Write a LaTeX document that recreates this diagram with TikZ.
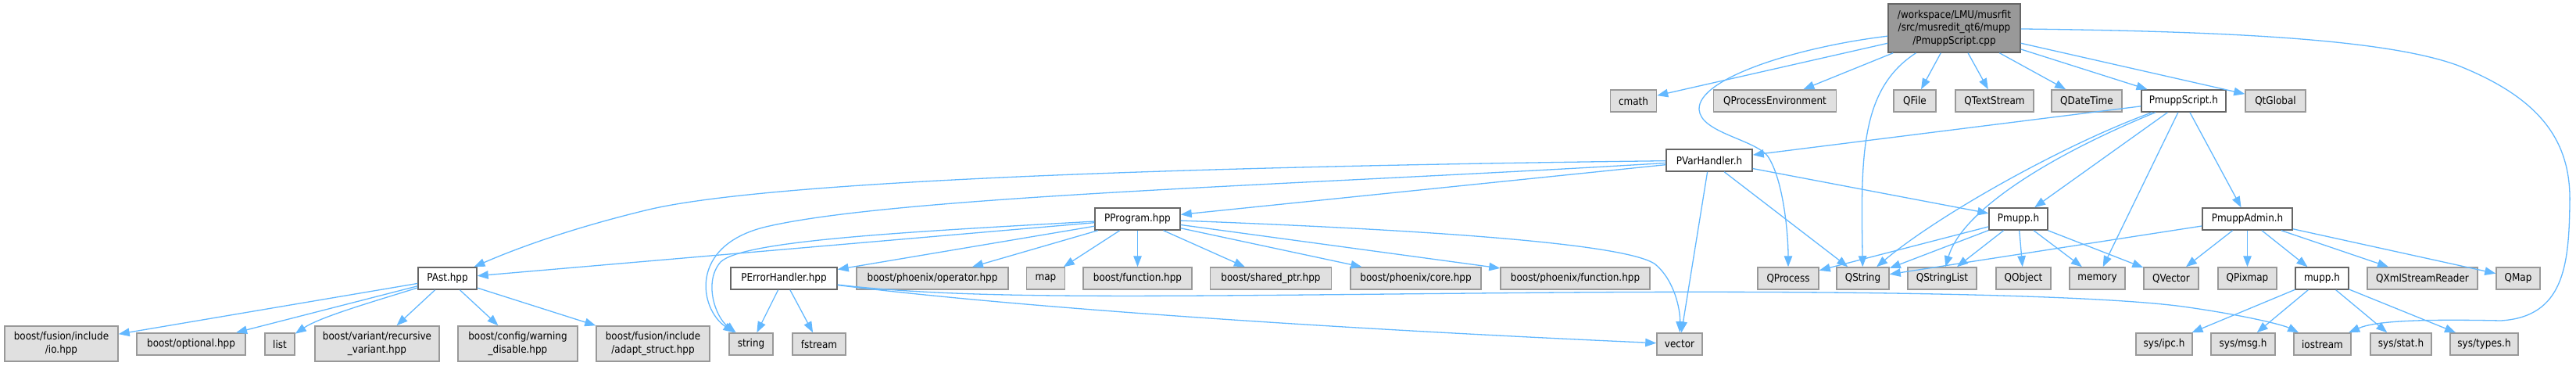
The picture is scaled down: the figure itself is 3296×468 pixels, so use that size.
\documentclass[tikz,border=0pt]{standalone}
\usepackage{fontspec}
\setmainfont{DejaVu Sans}[FakeStretch=0.89]
\usetikzlibrary{arrows.meta}
\definecolor{edgec}{HTML}{63B8FF}
\definecolor{gfill}{HTML}{E0E0E0}
\definecolor{gdraw}{HTML}{999999}
\definecolor{ddraw}{HTML}{666666}
\definecolor{rootfill}{HTML}{999999}
\tikzset{
  box/.style={line width=1.5pt, minimum height=28pt, inner sep=0pt, align=center,
    font=\fontsize{13.5}{16.6}\selectfont},
  ext/.style={box, fill=gfill, draw=gdraw},
  doc/.style={box, fill=white, draw=ddraw},
  root/.style={box, fill=rootfill, draw=ddraw, minimum height=62pt},
  two/.style={minimum height=45pt},
  e/.style={draw=edgec, line width=1.3pt, -{Triangle[length=14pt,width=10.5pt]}}
}
\begin{document}
\begin{tikzpicture}[x=1pt,y=-1pt]
\useasboundingbox (0,0) rectangle (3296,468);
% row 0
\node[root, minimum width=169pt] (main) at (2500.5,36) {/workspace/LMU/musrfit\\/src/musredit\_qt6/mupp\\/PmuppScript.cpp};
% row 1
\node[ext, minimum width=59pt] (cmath) at (2090,129) {cmath};
\node[ext, minimum width=157pt] (qpe) at (2271,129) {QProcessEnvironment};
\node[ext, minimum width=54pt] (qfile) at (2450,129) {QFile};
\node[ext, minimum width=100pt] (qts) at (2552,129) {QTextStream};
\node[ext, minimum width=90pt] (qdt) at (2670,129) {QDateTime};
\node[doc, minimum width=108pt] (pmsh) at (2794,129) {PmuppScript.h};
\node[ext, minimum width=77pt] (qtglobal) at (2911.5,129) {QtGlobal};
% row 2
\node[doc, minimum width=110pt] (pvar) at (2187,205) {PVarHandler.h};
% row 3
\node[doc, minimum width=109pt] (pprog) at (1455.5,280) {PProgram.hpp};
\node[doc, minimum width=75pt] (pmupp) at (2582.5,280) {Pmupp.h};
\node[doc, minimum width=115pt] (padmin) at (2875.5,280) {PmuppAdmin.h};
% row 4
\node[doc, minimum width=75pt] (past) at (572.5,356) {PAst.hpp};
\node[doc, minimum width=136pt] (perr) at (1003,356) {PErrorHandler.hpp};
\node[ext, minimum width=194pt] (bpop) at (1193,356) {boost/phoenix/operator.hpp};
\node[ext, minimum width=49pt] (map) at (1338,356) {map};
\node[ext, minimum width=139pt] (bfun) at (1455.5,356) {boost/function.hpp};
\node[ext, minimum width=155pt] (bsp) at (1626,356) {boost/shared\_ptr.hpp};
\node[ext, minimum width=167pt] (bpcore) at (1811.5,356) {boost/phoenix/core.hpp};
\node[ext, minimum width=191pt] (bpfun) at (2015.5,356) {boost/phoenix/function.hpp};
\node[ext, minimum width=78pt] (qprocess) at (2288,356) {QProcess};
\node[ext, minimum width=67pt] (qstring) at (2383.5,356) {QString};
\node[ext, minimum width=88pt] (qsl) at (2485,356) {QStringList};
\node[ext, minimum width=70pt] (qobject) at (2589,356) {QObject};
\node[ext, minimum width=71pt] (memory) at (2683.5,356) {memory};
\node[ext, minimum width=70pt] (qvector) at (2778,356) {QVector};
\node[ext, minimum width=75pt] (qpixmap) at (2875.5,356) {QPixmap};
\node[doc, minimum width=68pt] (mupph) at (2971,356) {mupp.h};
\node[ext, minimum width=141pt] (qxml) at (3099.5,356) {QXmlStreamReader};
\node[ext, minimum width=56pt] (qmap) at (3222,356) {QMap};
% row 5
\node[ext, two, minimum width=145pt] (bfio) at (78.5,439.5) {boost/fusion/include\\/io.hpp};
\node[ext, minimum width=139pt] (bopt) at (244.5,440) {boost/optional.hpp};
\node[ext, minimum width=38pt] (list) at (358,440) {list};
\node[ext, two, minimum width=159pt] (bvar) at (482.5,439.5) {boost/variant/recursive\\\_variant.hpp};
\node[ext, two, minimum width=153pt] (bcfg) at (662.5,439.5) {boost/config/warning\\\_disable.hpp};
\node[ext, two, minimum width=145pt] (bfas) at (835.5,439.5) {boost/fusion/include\\/adapt\_struct.hpp};
\node[ext, minimum width=56pt] (string) at (961,440) {string};
\node[ext, minimum width=68pt] (fstream) at (1048,440) {fstream};
\node[ext, minimum width=58pt] (vector) at (2149,440) {vector};
\node[ext, minimum width=72pt] (sysipc) at (2769,440) {sys/ipc.h};
\node[ext, minimum width=82pt] (sysmsg) at (2870,440) {sys/msg.h};
\node[ext, minimum width=73pt] (iostream) at (2971.5,440) {iostream};
\node[ext, minimum width=78pt] (sysstat) at (3072,440) {sys/stat.h};
\node[ext, minimum width=87pt] (systypes) at (3178.5,440) {sys/types.h};

% edges from main
\draw[e] (main) -- (cmath);
\draw[e] (main) -- (qpe);
\draw[e] (main) .. controls (2300,60) and (2172,100) .. (2174,140)
  .. controls (2176,170) and (2245,178) .. (2262,200)
  .. controls (2282,230) and (2288,300) .. (qprocess);
\draw[e] (main) .. controls (2380,114) and (2381,200) .. (qstring);
\draw[e] (main) -- (qfile);
\draw[e] (main) -- (qts);
\draw[e] (main) -- (qdt);
\draw[e] (main) -- (pmsh);
\draw[e] (main) -- (qtglobal);
\draw[e] (main) .. controls (2850,40) and (3050,50) .. (3143,83)
  .. controls (3250,125) and (3290,180) .. (3288,260)
  .. controls (3287,340) and (3280,405) .. (3200,410)
  .. controls (3100,408) and (3040,410) .. (iostream);

% PmuppScript.h
\draw[e] (pmsh) -- (pvar);
\draw[e] (pmsh) .. controls (2640,185) and (2480,275) .. (qstring);
\draw[e] (pmsh) .. controls (2620,200) and (2510,270) .. (qsl);
\draw[e] (pmsh) -- (pmupp);
\draw[e] (pmsh) -- (memory);
\draw[e] (pmsh) -- (padmin);

% PVarHandler.h
\draw[e] (pvar) .. controls (1600,212) and (1000,228) .. (830,268)
  .. controls (730,292) and (660,318) .. (past);
\draw[e] (pvar) .. controls (1700,235) and (1150,250) .. (980,290)
  .. controls (880,314) and (895,395) .. (string);
\draw[e] (pvar) -- (pprog);
\draw[e] (pvar) -- (vector);
\draw[e] (pvar) -- (qstring);
\draw[e] (pvar) -- (pmupp);

% PProgram.hpp
\draw[e] (pprog) -- (past);
\draw[e] (pprog) .. controls (1150,297) and (950,308) .. (922,335)
  .. controls (900,360) and (915,405) .. (string);
\draw[e] (pprog) -- (perr);
\draw[e] (pprog) -- (bpop);
\draw[e] (pprog) -- (map);
\draw[e] (pprog) -- (bfun);
\draw[e] (pprog) -- (bsp);
\draw[e] (pprog) -- (bpcore);
\draw[e] (pprog) -- (bpfun);
\draw[e] (pprog) .. controls (1800,293) and (2080,310) .. (2118,338)
  .. controls (2142,358) and (2150,395) .. (vector);

% PErrorHandler.hpp
\draw[e] (perr) -- (string);
\draw[e] (perr) -- (fstream);
\draw[e] (perr) .. controls (1300,393) and (1700,420) .. (vector);
\draw[e] (perr) .. controls (1250,385) and (1500,378) .. (2000,374)
  .. controls (2400,371) and (2700,378) .. (2800,393)
  .. controls (2870,403) and (2920,415) .. (iostream);

% PAst.hpp
\draw[e] (past) -- (bfio);
\draw[e] (past) -- (bopt);
\draw[e] (past) .. controls (480,385) and (410,405) .. (list);
\draw[e] (past) -- (bvar);
\draw[e] (past) -- (bcfg);
\draw[e] (past) -- (bfas);

% Pmupp.h
\draw[e] (pmupp) -- (qprocess);
\draw[e] (pmupp) -- (qstring);
\draw[e] (pmupp) -- (qsl);
\draw[e] (pmupp) -- (qobject);
\draw[e] (pmupp) -- (memory);
\draw[e] (pmupp) -- (qvector);

% PmuppAdmin.h
\draw[e] (padmin) -- (qstring);
\draw[e] (padmin) -- (qvector);
\draw[e] (padmin) -- (qpixmap);
\draw[e] (padmin) -- (mupph);
\draw[e] (padmin) -- (qxml);
\draw[e] (padmin) -- (qmap);

% mupp.h
\draw[e] (mupph) -- (sysipc);
\draw[e] (mupph) -- (sysmsg);
\draw[e] (mupph) -- (sysstat);
\draw[e] (mupph) -- (systypes);
\end{tikzpicture}
\end{document}
